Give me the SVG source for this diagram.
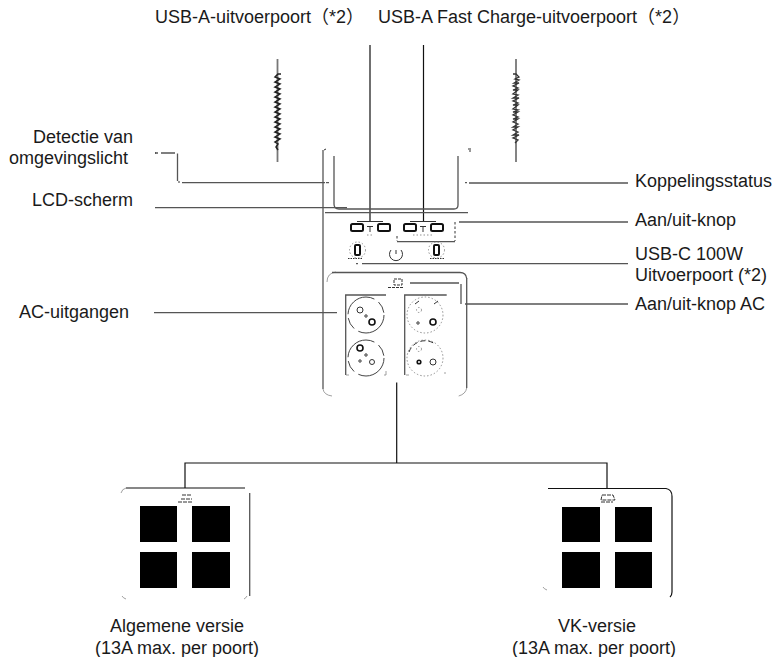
<svg xmlns="http://www.w3.org/2000/svg" width="778" height="657" viewBox="0 0 778 657">
<style>
text{font-family:"Liberation Sans","Noto Sans CJK SC",sans-serif;font-size:18px;fill:#1a1a1a}
.m{text-anchor:middle}
.e{text-anchor:end}
.l{fill:none;stroke:#111;stroke-width:1.2}
.g{fill:none;stroke:#555;stroke-width:1.3}
.d{fill:none;stroke:#333;stroke-width:1}
.f{fill:none;stroke:#888;stroke-width:.8}
.b{fill:#000}
.p{fill:#fff;stroke:#111;stroke-width:2}
.h{fill:#fff;stroke:#111;stroke-width:1.6}
.s{fill:none;stroke:#444;stroke-width:1}
.t{fill:none;stroke:#777;stroke-width:.8;stroke-dasharray:1.500 2}
</style>
<rect width="778" height="657" fill="#fff"/>
<g id="connectors">
<path class="l" d="M370 45V221M423.500 45V221M396.700 382.500V463M185 488V463H607V488"/>
<path class="g" d="M155 153H158M161 153H175M177.500 153.500V181M182 182.700H325M155 207.700H347M469 183H628M459 222H628M397 241.700H455M362 263.700H628M465 304H628M154 312.700H337M410 283H459M461 284V304"/>
<path class="d" d="M397 236V241M455 222V241" stroke-dasharray="2.500 2"/>
<path class="d" d="M155 153h1M178 182h2M356 263.700h2M326 182.700h3M465 182.700h2" stroke-width="1.500"/>
</g>
<g id="coil-left"><path d="M277.500 59V162" stroke="#777" stroke-width="1.800"/><path d="M281 74h-3l-3 3 5 2-5 3 5 2-5 3 5 2-5 3 5 2-5 3 5 2-5 3 5 2-5 3 5 2-5 3 5 2-5 3 5 2-5 3 5 2-5 3 5 2-5 3 5 2-5 3 5 2-5 3 3 2-2 3 2 3" fill="none" stroke="#222" stroke-width="1.500"/></g>
<g id="coil-right"><path d="M516 59V162" stroke="#777" stroke-width="1.800"/><path d="M513 74h3l3 3-4 2 4 1-5 3h5l-6 3 5 2-5 2h5l-5 4 5 1-5 3h6l-6 3 5 2-5 2h5l-5 4 5 1-5 2h5l-5 3 5 2-5 2h5l-5 3 5 2-5 3h5l-5 3 5 2-5 3h6l-6 3 5 2-3 3" fill="none" stroke="#333" stroke-width="1.300"/></g>
<g id="device">
<path class="g" d="M323 150V389"/>
<path class="f" d="M323 389q1 6 9 7M466.700 388q-1 6-8 8"/>
<path class="g" d="M466.700 278V388"/>
<path class="d" d="M324 150l2-1M468 149h3M469 151h2"/>
<path class="g" d="M334 156V204q0 5 5 5H454q4 0 4-4V156M325 212.700H468"/>
<path class="f" d="M327 282q0-9 9-10"/>
<path class="g" d="M332 272.500H460q6 0 6.700 6"/>
</g>
<g id="usb-a-ports">
<rect class="p" x="351" y="224" width="12" height="7" rx="1.500"/>
<rect class="p" x="378" y="224" width="12" height="7" rx="1.500"/>
<rect class="p" x="404" y="224" width="12" height="7" rx="1.500"/>
<rect class="p" x="431" y="224" width="12" height="7" rx="1.500"/>
<path class="d" d="M357 221.500H383M410 221.500H436M367 226.500H373M370 226.500V232M420 226.500H426M423 226.500V232"/>
<path class="t" d="M367 235H374M413 235H434"/>
</g>
<g id="usb-c-ports">
<rect class="p" x="355" y="245" width="5" height="10" rx="1"/>
<rect class="p" x="434" y="245" width="5" height="10" rx="1"/>
<circle cx="357.500" cy="250" r="8" class="t"/>
<circle cx="436.500" cy="250" r="8" class="t"/>
<path class="d" d="M348 258.500H362M430 258.500H444" stroke-dasharray="1.500 1"/>
</g>
<g id="power-button"><path class="d" d="M391 250a6.500 6.500 0 1 0 10 0M396 250V254"/></g>
<g id="ac-icon"><path class="d" d="M394 279H402V285H394ZM388 287.500H404" stroke-dasharray="3 1"/></g>
<g id="ac-left">
<path class="g" d="M345.700 375V295H386"/>
<circle cx="366" cy="315" r="18" class="s" stroke-dasharray="36 5 12 4"/>
<circle cx="366" cy="358" r="18" class="s" stroke-dasharray="36 5 12 4"/>
<circle cx="360" cy="310" r="3" class="d"/><circle cx="372" cy="322" r="3" class="h"/><circle cx="366" cy="316" r="1.200" class="d"/>
<circle cx="360" cy="348" r="3" class="h"/><circle cx="360" cy="361" r="1.200" class="d"/><circle cx="372" cy="362" r="2.500" class="d"/><circle cx="366" cy="355" r="1.200" class="d"/>
<path class="f" d="M386 371v4h-2M346 375h3"/>
</g>
<g id="ac-right">
<path class="g" d="M404.700 375V295H446.700"/>
<circle cx="425" cy="315" r="18" class="t"/>
<circle cx="425" cy="358" r="18" class="t"/>
<path class="d" d="M415 304l4-3M434 304l4-3M409 352a17 17 0 0 1 26-8" stroke-dasharray="5 3"/>
<circle cx="433" cy="322" r="3" class="h"/><circle cx="418" cy="323" r="1.200" class="d"/><circle cx="419" cy="310" r="2.500" class="t"/>
<circle cx="419" cy="362" r="1.800" class="h"/><circle cx="433" cy="362" r="3" class="d"/><circle cx="419" cy="349" r="2.500" class="t"/>
<path class="f" d="M406 375h3M444 373h2"/>
</g>
<g id="version-general">
<path class="l" d="M126 488H245"/>
<path class="g" d="M249.700 493V596"/>
<path class="f" d="M126 488q-4 1-5 5M122 596q1 2 4 3M247 596q-1 2-3 3"/>
<path class="d" d="M182 495H191M181 499H192M178 502H193" stroke-dasharray="4 1"/>
<rect class="b" x="140" y="506" width="37" height="36"/><rect class="b" x="192" y="506" width="38" height="36"/>
<rect class="b" x="140" y="552" width="37" height="36"/><rect class="b" x="192" y="552" width="38" height="36"/>
</g>
<g id="version-uk">
<path class="l" d="M548 488.500H666q6 1 6 8V592q0 3-2 5"/>
<path class="f" d="M543 587q1 2 4 3"/>
<path class="d" d="M602 495H613L615 500H601ZM601 502H613" stroke-dasharray="4 1"/>
<rect class="b" x="562" y="507" width="38" height="35"/><rect class="b" x="615" y="507" width="37" height="35"/>
<rect class="b" x="562" y="552" width="38" height="36"/><rect class="b" x="615" y="552" width="37" height="36"/>
</g>
<g id="labels">
<text x="155" y="23">USB-A-uitvoerpoort（*2）</text>
<text x="378" y="23">USB-A Fast Charge-uitvoerpoort（*2）</text>
<text x="133" y="143" class="e">Detectie van</text>
<text x="128" y="164" class="e">omgevingslicht</text>
<text x="133" y="206" class="e">LCD-scherm</text>
<text x="635" y="187">Koppelingsstatus</text>
<text x="635" y="226">Aan/uit-knop</text>
<text x="635" y="260">USB-C 100W</text>
<text x="635" y="281">Uitvoerpoort (*2)</text>
<text x="635" y="310">Aan/uit-knop AC</text>
<text x="129" y="318" class="e">AC-uitgangen</text>
<text x="177" y="632" class="m">Algemene versie</text>
<text x="177" y="654" class="m">(13A max. per poort)</text>
<text x="597" y="632" class="m">VK-versie</text>
<text x="594" y="654" class="m">(13A max. per poort)</text>
</g>
</svg>
